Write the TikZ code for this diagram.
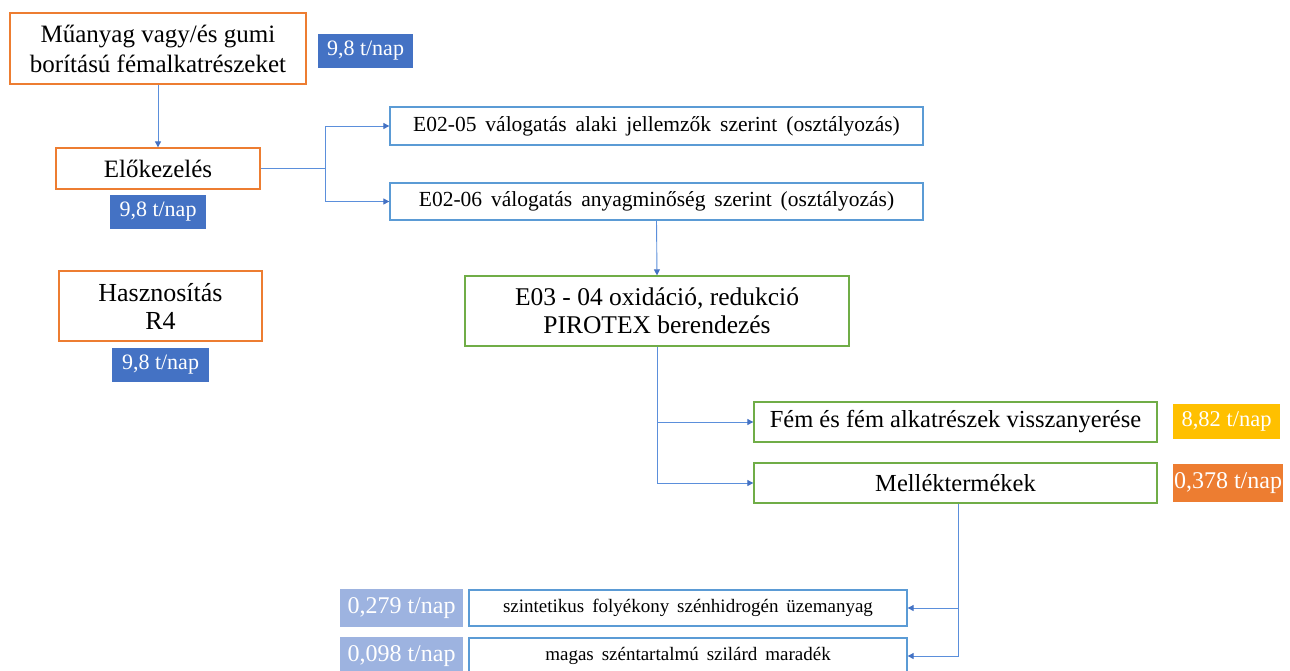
\documentclass[tikz,border=0pt]{standalone}
\usepackage{fontspec}
\setmainfont{Liberation Serif}
\usetikzlibrary{arrows.meta}
\definecolor{orangeb}{HTML}{ED7D31}
\definecolor{greenb}{HTML}{70AD47}
\definecolor{blueb}{HTML}{5B9BD5}
\definecolor{badgeblue}{HTML}{4472C4}
\definecolor{badgelight}{HTML}{9DB3E0}
\definecolor{badgeyellow}{HTML}{FFC000}
\definecolor{conn}{HTML}{5B8FDB}
\definecolor{tipc}{HTML}{4472C4}
\tikzset{
  box/.style={draw, line width=1.3pt, fill=white, inner sep=0pt, align=center, text=black},
  obox/.style={box, draw=orangeb},
  gbox/.style={box, draw=greenb},
  bbox/.style={box, draw=blueb},
  badge/.style={inner sep=0pt, text=white, align=center, font=\fontsize{22}{26}\selectfont},
  bigbadge/.style={badge, font=\fontsize{24}{28}\selectfont},
  arr/.style={draw=conn, line width=0.9pt, -{Triangle[length=6pt,width=6pt,color=tipc]}},
}
\begin{document}
\begin{tikzpicture}[x=1pt,y=-1pt]
\useasboundingbox (0,0) rectangle (1290,670);
\fill[white] (0,0) rectangle (1290,670);
% left column
\node[obox, minimum width=296pt, minimum height=71pt, font=\fontsize{25}{30}\selectfont] (src) at (158,48.5) {Műanyag vagy/és gumi\\borítású fémalkatrészeket};
\node[badge, fill=badgeblue, minimum width=95pt, minimum height=34pt] (b1) at (365.5,51) {9,8 t/nap};
\node[obox, minimum width=204pt, minimum height=41pt, font=\fontsize{25}{30}\selectfont] (pre) at (158,168.5) {Előkezelés};
\node[badge, fill=badgeblue, minimum width=96pt, minimum height=34pt] (b2) at (158,212) {9,8 t/nap};
\node[obox, minimum width=203pt, minimum height=70pt, font=\fontsize{26}{28}\selectfont] (has) at (160.5,306) {Hasznosítás\\R4};
\node[badge, fill=badgeblue, minimum width=97pt, minimum height=34pt] (b3) at (160.5,365) {9,8 t/nap};
% sorting
\node[bbox, minimum width=533pt, minimum height=38pt, font=\fontsize{21.5}{24}\selectfont] (e5) at (656.5,126) {E02-05\, válogatás\, alaki\, jellemzők\, szerint\, (osztályozás)};
\node[bbox, minimum width=533pt, minimum height=37pt, font=\fontsize{21.5}{24}\selectfont] (e6) at (656.5,201.5) {E02-06\, válogatás\, anyagminőség\, szerint\, (osztályozás)};
\node[gbox, minimum width=384pt, minimum height=70pt, font=\fontsize{25.5}{28}\selectfont] (e3) at (657,311) {E03 - 04 oxidáció, redukció\\PIROTEX berendezés};
% products
\node[gbox, minimum width=403pt, minimum height=40pt, font=\fontsize{24.5}{28}\selectfont] (fem) at (955.5,422) {Fém és fém alkatrészek visszanyerése};
\node[badge, fill=badgeyellow, minimum width=107pt, minimum height=35pt, font=\fontsize{22.5}{26}\selectfont] (by) at (1226.5,421.5) {8,82 t/nap};
\node[gbox, minimum width=403pt, minimum height=40pt, font=\fontsize{24.5}{28}\selectfont] (mel) at (955.5,483) {Melléktermékek};
\node[bigbadge, fill=orangeb, minimum width=110pt, minimum height=38pt] (bo) at (1228,483) {0,378 t/nap};
% by-products
\node[bbox, minimum width=438pt, minimum height=36pt, font=\fontsize{19}{22}\selectfont] (szi) at (688,608) {szintetikus\, folyékony\, szénhidrogén\, üzemanyag};
\node[bigbadge, fill=badgelight, minimum width=123pt, minimum height=38pt] (bl1) at (401.5,608) {0,279 t/nap};
\node[bbox, minimum width=438pt, minimum height=36pt, font=\fontsize{19}{22}\selectfont] (mag) at (688,656) {magas\, széntartalmú\, szilárd\, maradék};
\node[bigbadge, fill=badgelight, minimum width=123pt, minimum height=38pt] (bl2) at (401.5,656) {0,098 t/nap};
% connectors
\draw[arr] (src.south) -- (pre.north);
\coordinate (split) at (325,168.5);
\draw[arr] (pre.east) -- (split) |- (e5.west);
\draw[arr] (split) |- (e6.west);
\draw[arr] (e6.south) -- (e3.north);
\draw[arr] (e3.south) |- (fem.west);
\draw[arr] (e3.south) |- (mel.west);
\coordinate (mdown) at ([xshift=2.5pt]mel.south);
\draw[arr] (mdown) |- (szi.east);
\draw[arr] (mdown) |- (mag.east);
\end{tikzpicture}
\end{document}
